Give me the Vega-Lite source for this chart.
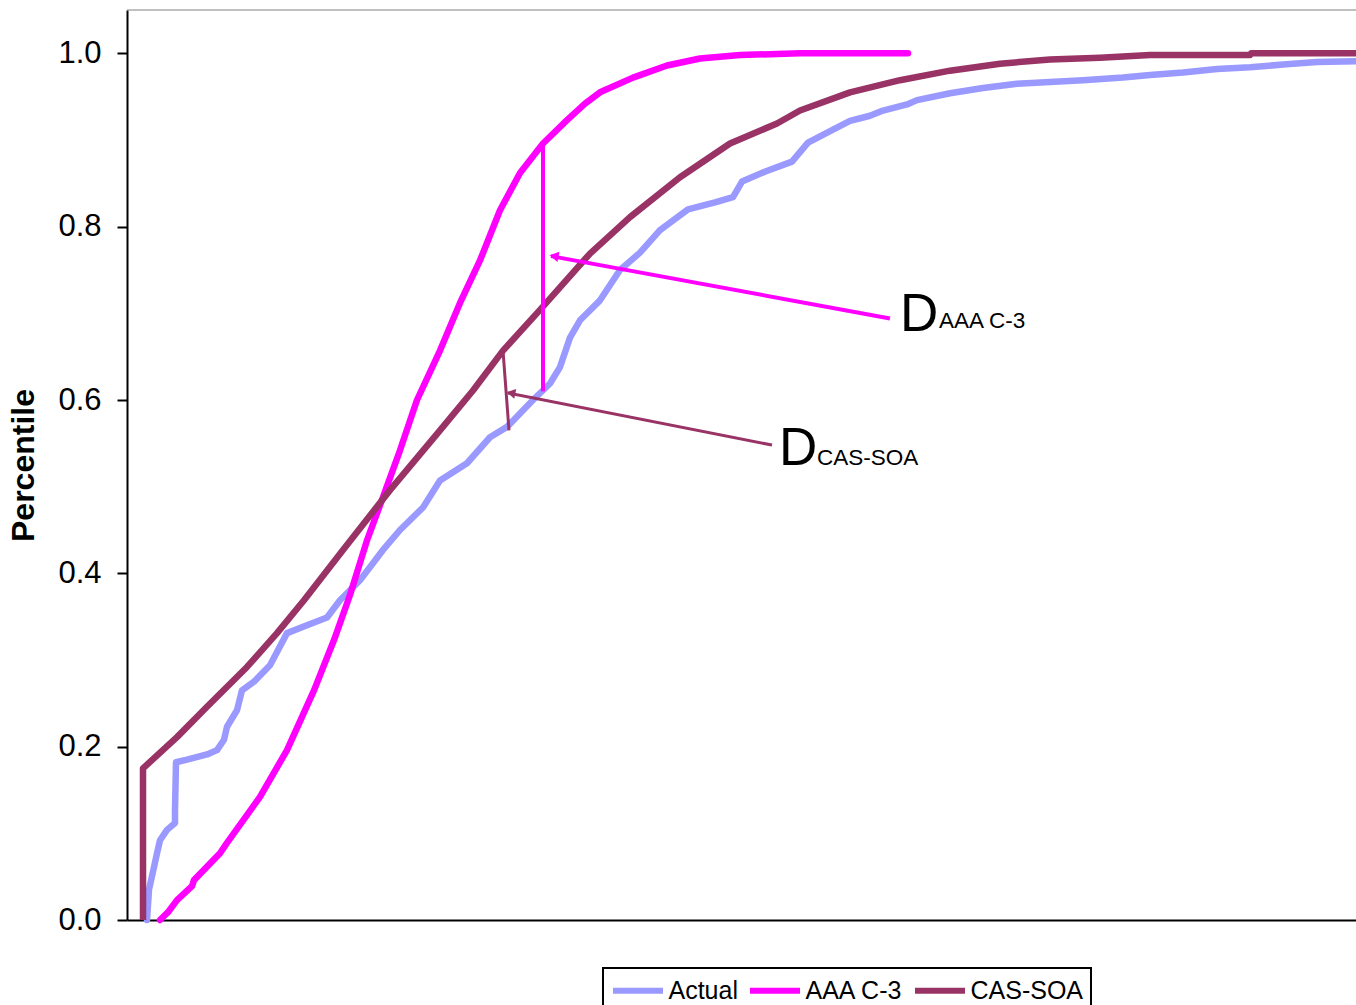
{
  "$schema": "https://vega.github.io/schema/vega-lite/v6.json",
  "width": 1229,
  "height": 910,
  "autosize": {"type": "none"},
  "padding": {"left": 127, "top": 10, "right": 0, "bottom": 85},
  "background": "white",
  "config": {
    "font": "Liberation Sans",
    "view": {"stroke": null},
    "legend": {"strokeWidth": 2}
  },
  "datasets": {
    "curves": [
      {"s": "Actual", "x": 20, "y": 0},
      {"s": "Actual", "x": 22, "y": 0.035},
      {"s": "Actual", "x": 27, "y": 0.061},
      {"s": "Actual", "x": 30, "y": 0.077},
      {"s": "Actual", "x": 33, "y": 0.092},
      {"s": "Actual", "x": 40, "y": 0.104},
      {"s": "Actual", "x": 48, "y": 0.112},
      {"s": "Actual", "x": 48, "y": 0.127},
      {"s": "Actual", "x": 49, "y": 0.182},
      {"s": "Actual", "x": 60, "y": 0.185},
      {"s": "Actual", "x": 80, "y": 0.191},
      {"s": "Actual", "x": 90, "y": 0.196},
      {"s": "Actual", "x": 97, "y": 0.208},
      {"s": "Actual", "x": 100, "y": 0.223},
      {"s": "Actual", "x": 110, "y": 0.242},
      {"s": "Actual", "x": 115, "y": 0.265},
      {"s": "Actual", "x": 127, "y": 0.275},
      {"s": "Actual", "x": 143, "y": 0.294},
      {"s": "Actual", "x": 160, "y": 0.331},
      {"s": "Actual", "x": 180, "y": 0.340},
      {"s": "Actual", "x": 200, "y": 0.349},
      {"s": "Actual", "x": 213, "y": 0.369},
      {"s": "Actual", "x": 233, "y": 0.392},
      {"s": "Actual", "x": 256, "y": 0.427},
      {"s": "Actual", "x": 273, "y": 0.450},
      {"s": "Actual", "x": 296, "y": 0.476},
      {"s": "Actual", "x": 313, "y": 0.507},
      {"s": "Actual", "x": 340, "y": 0.527},
      {"s": "Actual", "x": 363, "y": 0.557},
      {"s": "Actual", "x": 380, "y": 0.569},
      {"s": "Actual", "x": 406, "y": 0.600},
      {"s": "Actual", "x": 423, "y": 0.619},
      {"s": "Actual", "x": 433, "y": 0.638},
      {"s": "Actual", "x": 443, "y": 0.672},
      {"s": "Actual", "x": 453, "y": 0.692},
      {"s": "Actual", "x": 473, "y": 0.715},
      {"s": "Actual", "x": 493, "y": 0.750},
      {"s": "Actual", "x": 513, "y": 0.770},
      {"s": "Actual", "x": 533, "y": 0.796},
      {"s": "Actual", "x": 561, "y": 0.820},
      {"s": "Actual", "x": 588, "y": 0.828},
      {"s": "Actual", "x": 606, "y": 0.834},
      {"s": "Actual", "x": 615, "y": 0.852},
      {"s": "Actual", "x": 639, "y": 0.864},
      {"s": "Actual", "x": 665, "y": 0.875},
      {"s": "Actual", "x": 681, "y": 0.897},
      {"s": "Actual", "x": 706, "y": 0.912},
      {"s": "Actual", "x": 723, "y": 0.922},
      {"s": "Actual", "x": 743, "y": 0.928},
      {"s": "Actual", "x": 756, "y": 0.934},
      {"s": "Actual", "x": 780, "y": 0.941},
      {"s": "Actual", "x": 790, "y": 0.946},
      {"s": "Actual", "x": 823, "y": 0.954},
      {"s": "Actual", "x": 856, "y": 0.960},
      {"s": "Actual", "x": 890, "y": 0.965},
      {"s": "Actual", "x": 956, "y": 0.969},
      {"s": "Actual", "x": 996, "y": 0.972},
      {"s": "Actual", "x": 1023, "y": 0.975},
      {"s": "Actual", "x": 1056, "y": 0.978},
      {"s": "Actual", "x": 1090, "y": 0.982},
      {"s": "Actual", "x": 1123, "y": 0.984},
      {"s": "Actual", "x": 1156, "y": 0.987},
      {"s": "Actual", "x": 1190, "y": 0.990},
      {"s": "Actual", "x": 1229, "y": 0.991},
      {"s": "AAA C-3", "x": 33, "y": 0},
      {"s": "AAA C-3", "x": 41, "y": 0.009},
      {"s": "AAA C-3", "x": 50, "y": 0.023},
      {"s": "AAA C-3", "x": 65, "y": 0.039},
      {"s": "AAA C-3", "x": 67, "y": 0.046},
      {"s": "AAA C-3", "x": 93, "y": 0.077},
      {"s": "AAA C-3", "x": 100, "y": 0.089},
      {"s": "AAA C-3", "x": 133, "y": 0.142},
      {"s": "AAA C-3", "x": 160, "y": 0.196},
      {"s": "AAA C-3", "x": 187, "y": 0.265},
      {"s": "AAA C-3", "x": 207, "y": 0.323},
      {"s": "AAA C-3", "x": 223, "y": 0.375},
      {"s": "AAA C-3", "x": 240, "y": 0.438},
      {"s": "AAA C-3", "x": 256, "y": 0.488},
      {"s": "AAA C-3", "x": 273, "y": 0.542},
      {"s": "AAA C-3", "x": 290, "y": 0.600},
      {"s": "AAA C-3", "x": 313, "y": 0.657},
      {"s": "AAA C-3", "x": 333, "y": 0.712},
      {"s": "AAA C-3", "x": 353, "y": 0.761},
      {"s": "AAA C-3", "x": 373, "y": 0.819},
      {"s": "AAA C-3", "x": 393, "y": 0.862},
      {"s": "AAA C-3", "x": 416, "y": 0.896},
      {"s": "AAA C-3", "x": 440, "y": 0.923},
      {"s": "AAA C-3", "x": 458, "y": 0.942},
      {"s": "AAA C-3", "x": 473, "y": 0.955},
      {"s": "AAA C-3", "x": 506, "y": 0.972},
      {"s": "AAA C-3", "x": 540, "y": 0.986},
      {"s": "AAA C-3", "x": 573, "y": 0.994},
      {"s": "AAA C-3", "x": 613, "y": 0.998},
      {"s": "AAA C-3", "x": 673, "y": 1.0},
      {"s": "AAA C-3", "x": 781, "y": 1.0},
      {"s": "CAS-SOA", "x": 16, "y": 0},
      {"s": "CAS-SOA", "x": 16, "y": 0.175},
      {"s": "CAS-SOA", "x": 50, "y": 0.211},
      {"s": "CAS-SOA", "x": 80, "y": 0.246},
      {"s": "CAS-SOA", "x": 120, "y": 0.292},
      {"s": "CAS-SOA", "x": 150, "y": 0.331},
      {"s": "CAS-SOA", "x": 177, "y": 0.369},
      {"s": "CAS-SOA", "x": 216, "y": 0.427},
      {"s": "CAS-SOA", "x": 263, "y": 0.496},
      {"s": "CAS-SOA", "x": 313, "y": 0.565},
      {"s": "CAS-SOA", "x": 346, "y": 0.611},
      {"s": "CAS-SOA", "x": 376, "y": 0.657},
      {"s": "CAS-SOA", "x": 413, "y": 0.704},
      {"s": "CAS-SOA", "x": 463, "y": 0.769},
      {"s": "CAS-SOA", "x": 503, "y": 0.811},
      {"s": "CAS-SOA", "x": 553, "y": 0.857},
      {"s": "CAS-SOA", "x": 603, "y": 0.896},
      {"s": "CAS-SOA", "x": 650, "y": 0.919},
      {"s": "CAS-SOA", "x": 673, "y": 0.934},
      {"s": "CAS-SOA", "x": 723, "y": 0.955},
      {"s": "CAS-SOA", "x": 773, "y": 0.969},
      {"s": "CAS-SOA", "x": 823, "y": 0.980},
      {"s": "CAS-SOA", "x": 873, "y": 0.988},
      {"s": "CAS-SOA", "x": 923, "y": 0.993},
      {"s": "CAS-SOA", "x": 973, "y": 0.995},
      {"s": "CAS-SOA", "x": 1023, "y": 0.998},
      {"s": "CAS-SOA", "x": 1123, "y": 0.998},
      {"s": "CAS-SOA", "x": 1124, "y": 1.0},
      {"s": "CAS-SOA", "x": 1229, "y": 1.0}
    ],
    "magentaRules": [
      {"x": 416, "y": 0.894, "x2": 416, "y2": 0.610},
      {"x": 763, "y": 0.694, "x2": 424, "y2": 0.766}
    ],
    "purpleRules": [
      {"x": 376, "y": 0.657, "x2": 382, "y2": 0.565},
      {"x": 645, "y": 0.548, "x2": 381, "y2": 0.608}
    ],
    "magentaHead": [{"x": 427, "y": 0.766}],
    "purpleHead": [{"x": 384, "y": 0.608}],
    "bigD": [
      {"x": 773, "y": 0.680, "t": "D"},
      {"x": 652, "y": 0.525, "t": "D"}
    ],
    "subs": [
      {"x": 812, "y": 0.683, "t": "AAA C-3"},
      {"x": 690, "y": 0.525, "t": "CAS-SOA"}
    ],
    "frameTop": [{"x": 0, "x2": 1229, "y": 1.05}]
  },
  "layer": [
    {
      "data": {"name": "curves"},
      "transform": [{"filter": "datum.s === 'Actual'"}],
      "mark": {"type": "line", "strokeWidth": 6.5, "strokeCap": "round", "strokeJoin": "round"},
      "encoding": {
        "x": {"field": "x", "type": "quantitative", "scale": {"domain": [0, 1229], "nice": false, "zero": false},
              "axis": {"title": null, "labels": false, "ticks": false, "grid": false, "domainColor": "black", "domainWidth": 2}},
        "y": {"field": "y", "type": "quantitative", "scale": {"domain": [0, 1.05], "nice": false},
              "axis": {"title": "Percentile", "values": [0, 0.2, 0.4, 0.6, 0.8, 1.0], "format": ".1f", "grid": false,
                       "labelFontSize": 31, "labelColor": "black", "labelPadding": 16,
                       "tickColor": "black", "tickWidth": 2, "tickSize": 10,
                       "domainColor": "black", "domainWidth": 2,
                       "titleFontSize": 32, "titleFontWeight": "bold", "titleColor": "black", "titlePadding": 17}},
        "color": {"field": "s", "type": "nominal",
                  "scale": {"domain": ["Actual", "AAA C-3", "CAS-SOA"], "range": ["#9999FF", "#FF00FF", "#993366"]},
                  "legend": {"title": null, "orient": "none", "legendX": 476, "legendY": 958, "direction": "horizontal",
                             "symbolType": "M-2,0H2", "symbolSize": 625, "symbolStrokeWidth": 6, "symbolOffset": 12.5,
                             "labelFontSize": 25, "labelColor": "black", "labelOffset": 15, "columnPadding": 0,
                             "padding": 7, "strokeColor": "black", "fillColor": "white"}}
      }
    },
    {
      "data": {"name": "frameTop"},
      "mark": {"type": "rule", "color": "#808080", "strokeWidth": 1},
      "encoding": {
        "x": {"field": "x", "type": "quantitative"},
        "x2": {"field": "x2"},
        "y": {"field": "y", "type": "quantitative"}
      }
    },
    {
      "data": {"name": "curves"},
      "transform": [{"filter": "datum.s === 'AAA C-3'"}],
      "mark": {"type": "line", "strokeWidth": 6.5, "strokeCap": "round", "strokeJoin": "round"},
      "encoding": {
        "x": {"field": "x", "type": "quantitative"},
        "y": {"field": "y", "type": "quantitative"},
        "color": {"field": "s", "type": "nominal"}
      }
    },
    {
      "data": {"name": "curves"},
      "transform": [{"filter": "datum.s === 'CAS-SOA'"}],
      "mark": {"type": "line", "strokeWidth": 6.5, "strokeCap": "butt", "strokeJoin": "round"},
      "encoding": {
        "x": {"field": "x", "type": "quantitative"},
        "y": {"field": "y", "type": "quantitative"},
        "color": {"field": "s", "type": "nominal"}
      }
    },
    {
      "data": {"name": "magentaRules"},
      "mark": {"type": "rule", "color": "#FF00FF", "strokeWidth": 4},
      "encoding": {
        "x": {"field": "x", "type": "quantitative"},
        "y": {"field": "y", "type": "quantitative"},
        "x2": {"field": "x2"},
        "y2": {"field": "y2"}
      }
    },
    {
      "data": {"name": "purpleRules"},
      "mark": {"type": "rule", "color": "#993366", "strokeWidth": 3},
      "encoding": {
        "x": {"field": "x", "type": "quantitative"},
        "y": {"field": "y", "type": "quantitative"},
        "x2": {"field": "x2"},
        "y2": {"field": "y2"}
      }
    },
    {
      "data": {"name": "magentaHead"},
      "mark": {"type": "point", "shape": "triangle-left", "filled": true, "color": "#FF00FF", "size": 110, "angle": 10.4, "opacity": 1},
      "encoding": {
        "x": {"field": "x", "type": "quantitative"},
        "y": {"field": "y", "type": "quantitative"}
      }
    },
    {
      "data": {"name": "purpleHead"},
      "mark": {"type": "point", "shape": "triangle-left", "filled": true, "color": "#993366", "size": 100, "angle": 11.2, "opacity": 1},
      "encoding": {
        "x": {"field": "x", "type": "quantitative"},
        "y": {"field": "y", "type": "quantitative"}
      }
    },
    {
      "data": {"name": "bigD"},
      "mark": {"type": "text", "fontSize": 53, "align": "left", "baseline": "alphabetic", "color": "black"},
      "encoding": {
        "x": {"field": "x", "type": "quantitative"},
        "y": {"field": "y", "type": "quantitative"},
        "text": {"field": "t"}
      }
    },
    {
      "data": {"name": "subs"},
      "mark": {"type": "text", "fontSize": 22.5, "align": "left", "baseline": "alphabetic", "color": "black"},
      "encoding": {
        "x": {"field": "x", "type": "quantitative"},
        "y": {"field": "y", "type": "quantitative"},
        "text": {"field": "t"}
      }
    }
  ]
}
